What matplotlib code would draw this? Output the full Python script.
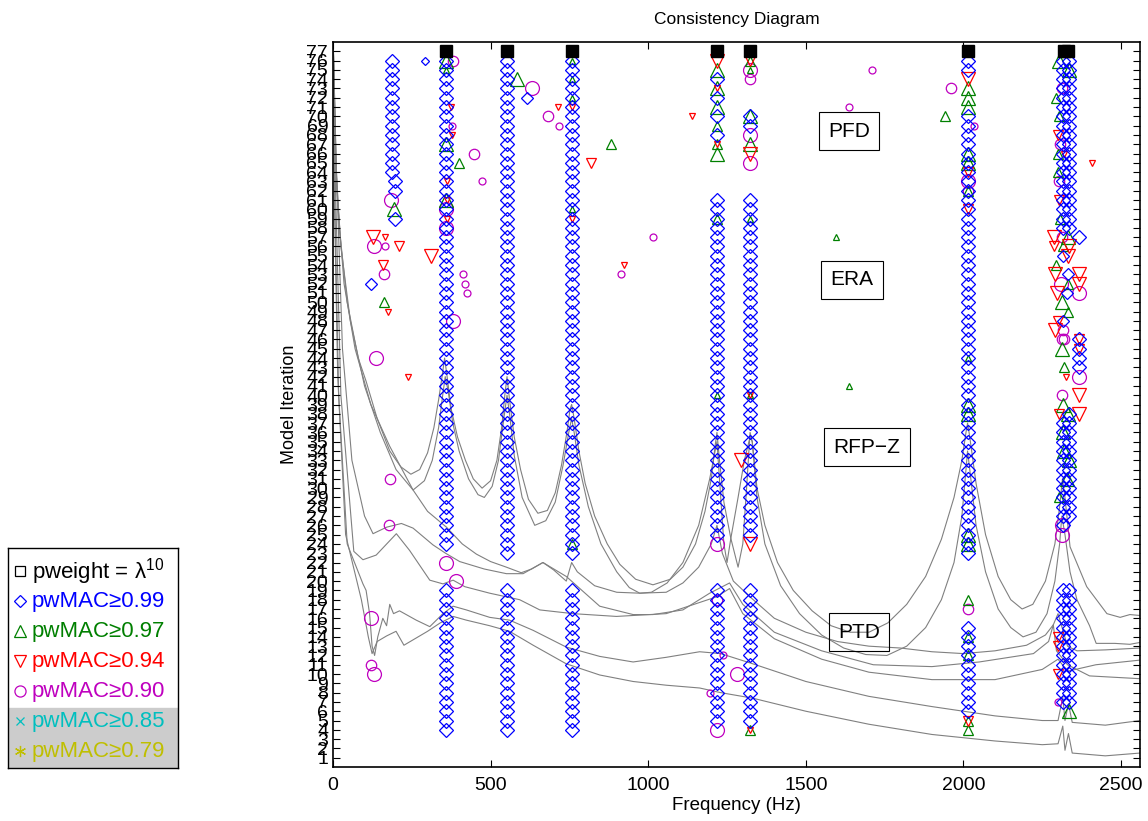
import matplotlib
matplotlib.use("Agg")
import matplotlib.pyplot as plt

plt.rcParams['font.family'] = ['Liberation Sans', 'DejaVu Sans']
plt.rcParams['mathtext.fontset'] = 'custom'
plt.rcParams['mathtext.rm'] = 'Liberation Sans'

# --- stable pole columns: (frequency Hz, first iteration, last iteration) ---
diamond_cols = [
    (186, 64, 76), (197, 62, 63), (197, 59, 59),
    (358, 24, 76), (358, 4, 19),
    (552, 23, 76), (552, 4, 19),
    (757, 23, 76), (757, 4, 19),
    (1218, 25, 61), (1218, 74, 74), (1218, 72, 72), (1218, 70, 70), (1218, 68, 68), (1218, 5, 19),
    (1323, 25, 61), (1323, 69, 70), (1323, 5, 19),
    (2013, 23, 70), (2013, 75, 76), (2013, 6, 15),
    (2316, 58, 76), (2334, 58, 76), (2316, 26, 37), (2334, 27, 38),
    (2316, 7, 19), (2334, 7, 19), (2367, 43, 46),
]

# --- single poles: frequency, iteration, size class (0 small, 1 medium, 2 large) ---
diam_f = [292, 615, 121, 2367, 2316, 2332, 2330, 2316]
diam_it = [76, 72, 52, 57, 55, 53, 51, 48]
diam_c = [0, 1, 1, 2, 1, 1, 1, 1]

tri_f = [358, 358, 358, 358, 584, 399, 882, 1595, 1637, 1942, 162, 192,
         757, 757, 757, 757, 757, 1218, 1218, 1218, 1218, 1218, 1218, 1218, 1218,
         1323, 1323, 1323, 1323, 1323, 1323,
         2013, 2013, 2013, 2013, 2013, 2013, 2013, 2013, 2013, 2013, 2013, 2013, 2013,
         2302, 2335, 2295, 2303, 2299, 2300, 2305,
         2332, 2316, 2294, 2332, 2313, 2332, 2313, 2318, 2316, 2332,
         2316, 2318, 2330, 2302, 2334,
         2013, 2013, 2013, 1323, 2334]
tri_it = [76, 75, 67, 61, 74, 65, 67, 57, 41, 70, 50, 60,
          76, 74, 72, 60, 24, 75, 73, 71, 69, 67, 66, 59, 40,
          76, 75, 70, 67, 59, 40,
          73, 72, 71, 66, 65, 62, 39, 38, 25, 24, 18, 14, 12,
          76, 75, 72, 70, 66, 64, 59,
          57, 56, 54, 52, 50, 49, 45, 43, 39, 38,
          36, 34, 31, 29, 33,
          5, 4, 44, 4, 6]
tri_c = [2, 0, 2, 2, 2, 1, 1, 0, 0, 1, 1, 2,
         0, 0, 0, 0, 1, 2, 2, 2, 1, 1, 2, 1, 0,
         1, 0, 2, 2, 0, 0,
         2, 2, 2, 2, 2, 1, 2, 2, 2, 2, 1, 1, 1,
         2, 2, 1, 1, 1, 1, 1,
         2, 1, 1, 1, 2, 1, 2, 1, 2, 2,
         2, 2, 2, 1, 2,
         1, 1, 0, 1, 2]

dtri_f = [375, 378, 362, 362, 362, 127, 165, 210, 311, 160, 175, 238, 714, 818, 1139, 923, 2408,
          757, 757, 1218, 1218, 1218, 1323, 1323, 1294, 1323, 1323,
          2013, 2013, 2013, 2300, 2318, 2303,
          2287, 2287, 2335, 2332, 2290, 2367, 2367, 2297, 2301, 2290, 2326, 2367, 2367, 2303, 2367, 2367,
          2300, 2300, 2300, 2013, 1323]
dtri_it = [71, 68, 63, 61, 59, 57, 57, 56, 55, 54, 49, 42, 71, 65, 70, 54, 65,
           71, 59, 76, 73, 67, 76, 66, 33, 24, 40,
           74, 64, 60, 68, 66, 61,
           57, 56, 56, 55, 53, 53, 52, 51, 48, 47, 42, 40, 38, 38, 46, 45,
           14, 13, 10, 5, 4]
dtri_c = [0, 0, 0, 0, 0, 2, 0, 1, 2, 1, 0, 0, 0, 1, 0, 0, 0,
          0, 0, 2, 0, 0, 1, 2, 2, 2, 0,
          2, 1, 1, 1, 0, 1,
          2, 1, 2, 2, 2, 2, 2, 2, 1, 2, 0, 2, 2, 1, 1, 1,
          1, 1, 1, 1, 0]

circ_f = [381, 358, 358, 378, 447, 473, 631, 682, 717, 1637, 1710, 1961, 1015, 913,
          130, 165, 162, 412, 419, 425, 381, 136, 181, 178, 121, 121, 130, 358, 390,
          185, 1218, 1218, 1237, 1283, 1196, 1218,
          1323, 1323, 1323, 1323, 2034, 2013, 2013, 2013,
          2313, 2305, 2303, 2313, 2310, 2367, 2316, 2318, 2367, 2313, 2313, 2313, 2313, 2300]
circ_it = [76, 60, 58, 69, 66, 63, 73, 70, 69, 71, 75, 73, 57, 53,
           56, 56, 53, 53, 52, 51, 48, 44, 31, 26, 16, 11, 10, 22, 20,
           61, 24, 18, 12, 10, 8, 4,
           75, 74, 68, 65, 69, 63, 62, 17,
           73, 67, 63, 57, 52, 51, 47, 46, 42, 40, 46, 26, 25, 7]
circ_c = [1, 2, 2, 0, 1, 0, 2, 1, 0, 0, 0, 1, 0, 0,
          2, 0, 1, 0, 0, 0, 2, 2, 1, 1, 2, 1, 2, 2, 2,
          2, 2, 1, 0, 2, 0, 2,
          2, 1, 2, 2, 0, 2, 1, 1,
          1, 1, 1, 1, 2, 2, 1, 1, 2, 1, 1, 2, 2, 0]

square_f = [358, 552, 757, 1218, 1323, 2013, 2318, 2333]
square_it = [77] * 8

method_names = ["PFD", "ERA", "RFP\u2212Z", "PTD"]
method_f = [1637, 1647, 1694, 1669]
method_it = [68.4, 52.4, 34.4, 14.5]

legend_labels = ["pweight = \u03bb$^{10}$", "pwMAC\u22650.99", "pwMAC\u22650.97",
                 "pwMAC\u22650.94", "pwMAC\u22650.90", "pwMAC\u22650.85", "pwMAC\u22650.79"]

# --- response curves overlaid on the diagram (frequency Hz, iteration scale) ---
curve_a = [(0, 79), (8, 66), (20, 58), (45, 50), (80, 44), (105, 41.5), (140, 37.5), (180, 34),
           (215, 32.3), (247, 31.5), (275, 32), (300, 33.8), (320, 36.5), (335, 39.5), (346, 42),
           (354, 44), (362, 42), (375, 38.5), (395, 35.5), (420, 33), (445, 31), (473, 30),
           (500, 30.8), (520, 33), (535, 36.5), (545, 40), (552, 42), (560, 39.5), (575, 35.5),
           (595, 32), (620, 28.8), (650, 27.3), (680, 27.6), (705, 29.5), (725, 32.5), (742, 36),
           (752, 38.5), (757, 39), (765, 37.5), (780, 34), (800, 30.5), (830, 27), (870, 24),
           (910, 21.8), (960, 20.2), (1015, 19.6), (1070, 20.2), (1110, 21.5), (1150, 24),
           (1180, 27.5), (1200, 31), (1212, 34.5), (1218, 36), (1226, 33), (1240, 28.5),
           (1262, 24.6), (1285, 21.5), (1300, 24), (1312, 30), (1323, 36), (1330, 35), (1345, 30),
           (1370, 26), (1410, 22), (1460, 19), (1520, 16.8), (1580, 15.2), (1640, 14.5),
           (1700, 14.5), (1760, 15.5), (1820, 17.5), (1880, 20.5), (1930, 24.5), (1970, 29),
           (1995, 33), (2008, 36), (2013, 37), (2020, 35.5), (2040, 30.5), (2070, 25), (2110, 20.5),
           (2150, 18), (2186, 17), (2220, 17.5), (2260, 20), (2290, 24), (2305, 28), (2314, 31),
           (2322, 29), (2338, 23.7), (2391, 19.4), (2455, 16.5), (2497, 16.1), (2528, 16.4),
           (2560, 16.3)]
curve_b = [(0, 79), (10, 64), (25, 56), (55, 48), (100, 41), (150, 36), (200, 32), (254, 29.8),
           (290, 30.8), (315, 33), (335, 36.5), (348, 40), (356, 42), (365, 40.5), (380, 37),
           (400, 34), (430, 31), (460, 29.3), (480, 29), (505, 30.2), (525, 33), (540, 37),
           (552, 40), (560, 38), (575, 33.5), (600, 29), (640, 26), (675, 26.5), (705, 28.5),
           (730, 32.5), (748, 36), (757, 37.5), (765, 36), (780, 32.5), (810, 28), (850, 24),
           (900, 21), (940, 19.3), (973, 18.7), (1010, 18.8), (1060, 19.8), (1110, 22),
           (1160, 26), (1195, 31), (1212, 34), (1218, 35), (1226, 31), (1240, 24), (1250, 22),
           (1262, 24.6), (1285, 29), (1305, 33), (1323, 35.5), (1330, 35), (1345, 29), (1370, 24),
           (1420, 19.5), (1480, 16.5), (1550, 14.2), (1620, 12.8), (1690, 12.1), (1757, 12),
           (1820, 13), (1880, 15), (1930, 18), (1970, 22), (1995, 27), (2008, 32), (2013, 34),
           (2020, 32), (2040, 26), (2070, 21), (2110, 17), (2150, 15), (2189, 14), (2230, 14.5),
           (2265, 16.5), (2290, 20), (2305, 24), (2312, 27), (2322, 25), (2338, 21), (2360, 18),
           (2400, 15.2), (2421, 13.3), (2480, 13.3), (2528, 13.2), (2560, 13.4)]
curve_c = [(0, 79), (12, 62), (35, 52), (70, 45), (120, 39), (180, 34.5), (254, 29.8), (300, 27.5),
           (360, 25.8), (410, 24), (455, 22.9), (500, 22.1), (550, 21.5), (597, 20.9), (630, 21.3),
           (666, 22), (700, 21.2), (740, 20), (757, 22), (775, 21), (830, 19.5), (900, 18.8),
           (973, 18.7), (1057, 18.8), (1110, 19.8), (1160, 21.5), (1200, 24), (1218, 26),
           (1235, 23), (1270, 20), (1323, 18.3), (1400, 16), (1500, 14.5), (1600, 13.5),
           (1700, 13.0), (1800, 12.8), (1900, 12.4), (2000, 12.2), (2100, 12.5), (2200, 13.1),
           (2260, 14.2), (2285, 15.3), (2300, 16.5), (2330, 13), (2360, 12.5), (2450, 12.6),
           (2560, 12.8)]
curve_d = [(0, 79), (10, 65), (30, 45), (60, 33), (100, 27), (127, 25.1), (170, 25.8), (217, 26.2),
           (254, 25.7), (317, 23.9), (357, 23.0), (402, 22.1), (480, 21.3), (550, 20.8), (603, 20.8),
           (666, 22.0), (740, 20.5), (846, 17.3), (952, 16.4), (1015, 16.4), (1110, 16.9),
           (1195, 18.7), (1258, 19.8), (1300, 17.5), (1400, 14.5), (1550, 12.5), (1714, 11.0),
           (1900, 10.8), (2050, 11.3), (2222, 12.2), (2270, 13.5), (2285, 15.3), (2295, 12.5),
           (2330, 11.0), (2400, 9.8), (2560, 9.5)]
curve_e = [(0, 79), (8, 62), (25, 40), (66, 23.2), (95, 22.3), (137, 22.8), (201, 25.1), (243, 23.3),
           (307, 20.1), (349, 19.7), (381, 20.1), (418, 19.4), (497, 18.7), (592, 18.0), (656, 16.9),
           (761, 16.5), (899, 16.2), (1057, 16.5), (1216, 18.3), (1258, 19.2), (1300, 16.5),
           (1400, 13.8), (1550, 11.6), (1700, 10.2), (1900, 9.4), (2100, 9.4), (2250, 10.5),
           (2300, 11.6), (2330, 10.3), (2420, 11.0), (2560, 11.5)]
curve_f = [(0, 79), (6, 60), (18, 40), (45, 24), (95, 19.7), (105, 19), (116, 16.5), (124, 13),
           (132, 12), (142, 14), (158, 16), (170, 15.2), (180, 17.5), (192, 16.5), (211, 16.8),
           (264, 15.8), (307, 15.1), (349, 16.5), (381, 17.3), (423, 16.9), (497, 16.1), (560, 15.8),
           (635, 14.7), (740, 12.9), (846, 11.9), (952, 11.3), (1057, 11.8), (1163, 12.4),
           (1230, 12.2), (1332, 11.1), (1500, 9.2), (1700, 7.6), (1900, 6.5), (2100, 5.5),
           (2250, 5.0), (2300, 5.0), (2315, 7.5), (2322, 5.0), (2333, 6.8), (2345, 4.8),
           (2450, 4.5), (2560, 5.0)]
curve_g = [(0, 79), (5, 60), (15, 42), (40, 25), (90, 18), (112, 14), (124, 12.2), (140, 13.5),
           (170, 14.1), (200, 14.6), (225, 13.1), (250, 13.6), (300, 14.6), (340, 15.5), (381, 16.2),
           (423, 15.8), (497, 15.2), (560, 14.6), (635, 13.1), (740, 11.1), (846, 9.9), (952, 9.2),
           (1057, 8.8), (1163, 8.5), (1230, 8.0), (1332, 7.4), (1500, 6.0), (1700, 4.6),
           (1900, 3.5), (2100, 2.8), (2250, 2.4), (2300, 2.5), (2315, 4.4), (2322, 1.8),
           (2333, 3.6), (2345, 1.5), (2450, 1.2), (2560, 1.5)]
curves = [curve_a, curve_b, curve_c, curve_d, curve_e, curve_f, curve_g]


def expand(cols):
    f, it = [], []
    for freq, first, last in cols:
        for k in range(first, last + 1):
            f.append(freq)
            it.append(k)
    return f, it


fig = plt.figure(figsize=(11.48, 8.21), dpi=100)
ax = fig.add_axes([333 / 1148, 1 - 767 / 821, (1140 - 333) / 1148, (767 - 42) / 821])

for c in curves:
    ax.plot([p[0] for p in c], [p[1] for p in c], color='#808080', lw=0.8, zorder=1)

sizes = [5.0, 7.5, 10.0]
blue, green, red, mag = '#0000ff', '#008000', '#ff0000', '#bf00bf'


def scatter(fs, its, cls, marker, color, scale=1.0):
    for k in range(3):
        xs = [f for f, c in zip(fs, cls) if c == k]
        ys = [i for i, c in zip(its, cls) if c == k]
        ax.plot(xs, ys, ls='none', marker=marker, ms=sizes[k] * scale, mfc='none',
                mec=color, mew=0.9, zorder=3)


scatter(circ_f, circ_it, circ_c, 'o', mag)
scatter(tri_f, tri_it, tri_c, '^', green)
scatter(dtri_f, dtri_it, dtri_c, 'v', red)
col_f, col_it = expand(diamond_cols)
ax.plot(col_f, col_it, ls='none', marker='D', ms=7.2, mfc='none', mec=blue, mew=0.9, zorder=4)
scatter(diam_f, diam_it, diam_c, 'D', blue, scale=0.75)
ax.plot(square_f, square_it, ls='none', marker='s', ms=8.5, color='k', zorder=5)

for name, f, it in zip(method_names, method_f, method_it):
    ax.text(f, it, name, fontsize=15, ha='center', va='center', zorder=6,
            bbox=dict(boxstyle='square,pad=0.45', fc='none', ec='k', lw=0.8))

ax.set_xlim(0, 2560)
ax.set_ylim(0, 78)
ax.set_xticks([0, 500, 1000, 1500, 2000, 2500])
ax.set_yticks(range(1, 78))
ax.tick_params(direction='in', length=5, width=0.8, top=True, right=True, labelsize=14)
ax.tick_params(axis='x', pad=7)
for s in ax.spines.values():
    s.set_linewidth(1.2)
ax.set_xlabel("Frequency (Hz)", fontsize=13.5, labelpad=2)
ax.set_ylabel("Model Iteration", fontsize=13, labelpad=6)
ax.set_title("Consistency Diagram", fontsize=12.5, pad=13)

# legend drawn by hand so the last two rows keep their grey band
lax = fig.add_axes([8 / 1148, 1 - 768 / 821, 170 / 1148, 220 / 821])
lax.set_xlim(0, 170)
lax.set_ylim(220, 0)
lax.set_xticks([])
lax.set_yticks([])
for s in lax.spines.values():
    s.set_linewidth(1.0)
lax.axhspan(160, 220, color='#cccccc', zorder=0)
leg_colors = ['k', blue, green, red, mag, '#00bfbf', '#bfbf00']
leg_markers = ['s', 'D', '^', 'v', 'o', 'x', (6, 2, 0)]
leg_ms = [7, 6.5, 9, 9, 8, 6, 8]
for k, (lab, col, mk) in enumerate(zip(legend_labels, leg_colors, leg_markers)):
    y = 23 + k * 30
    lax.plot([12], [y], marker=mk, ms=leg_ms[k], mfc='none', mec=col, mew=0.9)
    lax.text(24, y + 1, lab, color=col, fontsize=16, va='center', ha='left')

fig.savefig("out.png", dpi=100)
